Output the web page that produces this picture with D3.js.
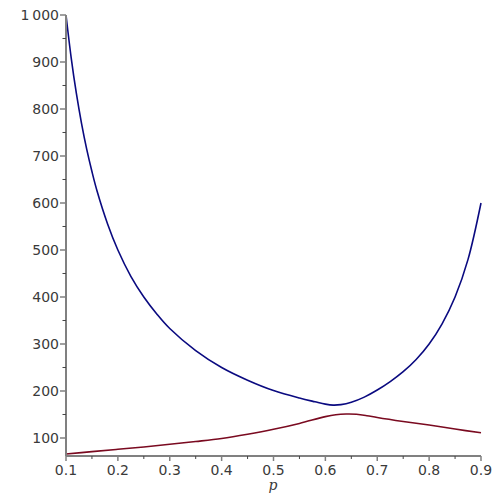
<!DOCTYPE html>
<html><head><meta charset="utf-8">
<script src="https://cdn.jsdelivr.net/npm/d3@7"></script>
<style>body{margin:0;background:#fff}</style>
</head><body>
<svg id="c" width="500" height="500"></svg>
<script>
const blueP = [0.10,0.11,0.12,0.13,0.14,0.15,0.16,0.18,0.20,0.225,0.25,0.275,0.30,0.35,0.40,0.45,0.50,0.55,0.58,0.60,0.615,0.63,0.65,0.675,0.70,0.725,0.75,0.775,0.80,0.825,0.85,0.875,0.90];
const blueV = [1000,909,833,769,714,667,625,556,500,444,400,364,333,286,250,223,201,185,177,172,170,171,176,187,202,220,241,267,300,343,400,480,600];
const redP = [0.10,0.15,0.20,0.25,0.30,0.35,0.40,0.45,0.50,0.55,0.60,0.62,0.64,0.66,0.68,0.70,0.75,0.80,0.85,0.90];
const redV = [66,71,76,81,86.6,92.5,99,108,118.5,131,145.5,149.5,151,150.5,147.5,143.5,135,127.5,119,111];
const xTicks = [0.1,0.2,0.3,0.4,0.5,0.6,0.7,0.8,0.9];
const yTicks = [100,200,300,400,500,600,700,800,900,1000];
const yTickLabels = ["100","200","300","400","500","600","700","800","900","1\u2009000"];
const xLabel = "p";

const svg = d3.select("#c");
const x = d3.scaleLinear().domain([0.1,0.9]).range([66,481]);
const y = d3.scaleLinear().domain([61.7,1000]).range([456,15]);
const axisColor = "#808080";
const font = "DejaVu Sans, Verdana, sans-serif";

// curves
const line = d3.line().x(d=>x(d[0])).y(d=>y(d[1])).curve(d3.curveCatmullRom.alpha(0.5));
svg.append("path").datum(redP.map((p,i)=>[p,redV[i]]))
  .attr("d",line).attr("fill","none").attr("stroke","#7a0a20").attr("stroke-width",1.6);
svg.append("path").datum(blueP.map((p,i)=>[p,blueV[i]]))
  .attr("d",line).attr("fill","none").attr("stroke","#0a0a80").attr("stroke-width",1.6);

// y axis
const ya = svg.append("g");
ya.append("line").attr("x1",66).attr("x2",66).attr("y1",y(1000)).attr("y2",456)
  .attr("stroke",axisColor).attr("stroke-width",2);
const yMinor = d3.range(150,1000,100);
ya.selectAll(".ym").data(yMinor).join("line")
  .attr("x1",62.5).attr("x2",66).attr("y1",d=>y(d)).attr("y2",d=>y(d))
  .attr("stroke","#444").attr("stroke-width",1);
ya.selectAll(".yM").data(yTicks).join("line")
  .attr("x1",60).attr("x2",66).attr("y1",d=>y(d)).attr("y2",d=>y(d))
  .attr("stroke",axisColor).attr("stroke-width",1.5);
ya.selectAll("text").data(yTicks).join("text")
  .attr("x",59).attr("y",d=>y(d)).attr("dy","0.36em").attr("text-anchor","end")
  .attr("font-family",font).attr("font-size",14).attr("fill","#3a3a3a")
  .text((d,i)=>yTickLabels[i]);

// x axis
const xa = svg.append("g");
xa.append("line").attr("x1",66).attr("x2",481).attr("y1",456).attr("y2",456)
  .attr("stroke",axisColor).attr("stroke-width",2);
const xMinor = d3.range(0.15,0.9,0.1);
xa.selectAll(".xm").data(xMinor).join("line")
  .attr("x1",d=>x(d)).attr("x2",d=>x(d)).attr("y1",456).attr("y2",459)
  .attr("stroke","#444").attr("stroke-width",1);
xa.selectAll(".xM").data(xTicks).join("line")
  .attr("x1",d=>x(d)).attr("x2",d=>x(d)).attr("y1",456).attr("y2",461)
  .attr("stroke",axisColor).attr("stroke-width",1.5);
xa.selectAll("text").data(xTicks).join("text")
  .attr("x",d=>x(d)).attr("y",475).attr("text-anchor","middle")
  .attr("font-family",font).attr("font-size",14).attr("fill","#3a3a3a")
  .text(d=>d.toFixed(1));
svg.append("text").attr("x",273).attr("y",490).attr("text-anchor","middle")
  .attr("font-family","DejaVu Serif, serif").attr("font-style","italic")
  .attr("font-size",14).attr("fill","#3a3a3a").text(xLabel);
</script>
</body></html>
